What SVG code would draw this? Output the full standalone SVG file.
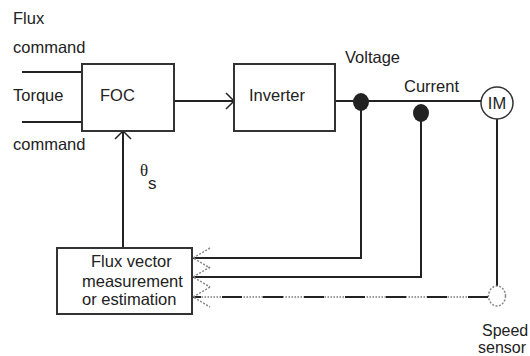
<svg xmlns="http://www.w3.org/2000/svg" width="530" height="356" viewBox="0 0 530 356">
<style>
text{font-family:"Liberation Sans",Arial,sans-serif;font-size:16.5px;fill:#222}
.box{fill:#fff;stroke:#333;stroke-width:2}
.ln{fill:none;stroke:#222;stroke-width:2}
.ah{fill:none;stroke:#222;stroke-width:1.5}
.gh{fill:none;stroke:#888;stroke-width:1.5;stroke-dasharray:2 1.5}
</style>
<rect width="530" height="356" fill="#fff"/>
<g id="labels">
<text x="13" y="24">Flux</text>
<text x="13" y="53">command</text>
<text x="13" y="101">Torque</text>
<text x="13" y="150">command</text>
<text x="345" y="63">Voltage</text>
<text x="404" y="92">Current</text>
<text x="140" y="176" style="font-family:'Liberation Serif',serif;font-size:17px">θ</text>
<text x="148" y="189" style="font-size:17px">s</text>
<text x="482" y="336" style="font-size:16px">Speed</text>
<text x="478" y="353" style="font-size:16px">sensor</text>
</g>
<g id="connectors">
<line class="ln" x1="22" y1="72" x2="82" y2="72"/>
<line class="ln" x1="22" y1="122" x2="82" y2="122"/>
<line class="ln" x1="174" y1="101" x2="234" y2="101"/>
<polyline class="ah" points="226,93 234,101 226,109"/>
<line class="ln" x1="123" y1="248" x2="123" y2="131"/>
<polyline class="ah" points="115,139 123,131 131,139"/>
<line class="ln" x1="335" y1="101" x2="481" y2="101"/>
<polyline class="ln" points="361,102 361,258 192,258"/>
<polyline class="ln" points="421,113 421,277 192,277"/>
<line class="ln" x1="497" y1="119" x2="497" y2="287"/>
<line x1="488" y1="297" x2="192" y2="297" stroke="#999" stroke-width="2" stroke-dasharray="1.5 1.5"/>
<line x1="488" y1="297" x2="192" y2="297" stroke="#222" stroke-width="2" stroke-dasharray="20 21"/>
<polyline class="gh" points="210,248 193,258 210,268"/>
<polyline class="gh" points="210,267 193,277 210,287"/>
<polyline class="gh" points="210,287 193,297 210,307"/>
</g>
<g id="foc">
<rect class="box" x="82" y="64" width="92" height="67"/>
<text x="100" y="101">FOC</text>
</g>
<g id="inverter">
<rect class="box" x="234" y="64" width="101" height="67"/>
<text x="249" y="101">Inverter</text>
</g>
<g id="voltage-node">
<ellipse cx="361" cy="102" rx="8" ry="9" fill="#222"/>
</g>
<g id="current-node">
<ellipse cx="421" cy="113" rx="8" ry="9" fill="#222"/>
</g>
<g id="im">
<circle cx="497" cy="103" r="16" fill="#fff" stroke="#333" stroke-width="1.5"/>
<text x="497" y="109" text-anchor="middle">IM</text>
</g>
<g id="speed-sensor">
<ellipse cx="497" cy="296" rx="8.5" ry="10" fill="#fff" stroke="#888" stroke-width="1.5" stroke-dasharray="2 1.5"/>
</g>
<g id="flux-vector">
<rect class="box" x="57" y="248" width="135" height="66"/>
<text x="91" y="267">Flux vector</text>
<text x="82" y="287">measurement</text>
<text x="82" y="305">or estimation</text>
</g>
</svg>
